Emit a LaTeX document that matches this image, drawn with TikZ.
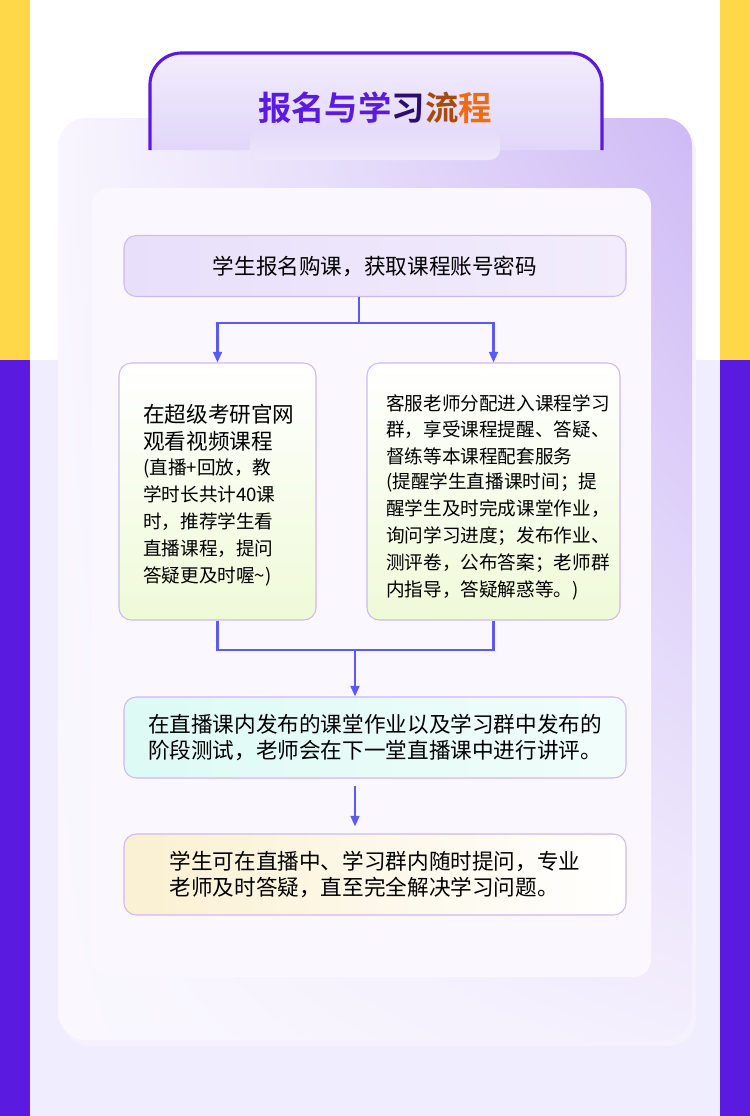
\documentclass[tikz,border=0pt]{standalone}
\usepackage{fontspec}
\usepackage{tikz}
\usetikzlibrary{arrows.meta,positioning,shadings}
\newfontfamily\cjk{Noto Sans CJK SC}
\newfontfamily\cjkbold{Noto Sans CJK SC Bold}
\definecolor{deeppurple}{HTML}{5B1ADF}
\definecolor{sideyellow}{HTML}{FFD84A}
\definecolor{lavbg}{HTML}{F0EDFF}
\definecolor{linkblue}{HTML}{5A5AF5}
\definecolor{boxline}{HTML}{CDB9F6}
\definecolor{titleorange}{HTML}{F06A10}
\definecolor{palegreen}{HTML}{EFFAD8}
\definecolor{palecyan}{HTML}{DDFAF4}
\definecolor{paleyellow}{HTML}{FAF0D2}
\newcommand\smalltext{\fontsize{10.6}{13.6}\selectfont}
\newcommand\midtext{\fontsize{10.6}{14.6}\selectfont}
\tikzset{
  stepbox/.style={draw=boxline, line width=0.6pt, rounded corners=7pt, inner sep=0pt},
  steptext/.style={font=\cjk\fontsize{12.3}{15.3}\selectfont, align=left, text=black},
  link/.style={draw=linkblue, line width=1.2pt},
  linkarrow/.style={link, -{Triangle[length=6pt,width=5pt]}}
}
\begin{document}
\begin{tikzpicture}[x=0.02cm, y=-0.02cm]
    \useasboundingbox (0,0) rectangle (750,1116);
    % background
    \fill[white] (0,0) rectangle (750,1116);
    \fill[sideyellow] (0,0) rectangle (30,360);
    \fill[sideyellow] (720,0) rectangle (750,360);
    \fill[deeppurple] (0,360) rectangle (30,1116);
    \fill[deeppurple] (720,360) rectangle (750,1116);
    \fill[lavbg] (30,360) rectangle (720,1116);
    % outer card
    \fill[deeppurple!6, rounded corners=16pt] (62,124) rectangle (696,1046);
    \shade[upper left=white!96!deeppurple, upper right=deeppurple!30, lower left=white!97!deeppurple, lower right=white!93!deeppurple, rounded corners=16pt] (58,118) rectangle (692,1040);
    % title tab
    \shade[top color=white!92!deeppurple, bottom color=deeppurple!18, rounded corners=18pt] (150,150) -- (150,53) -- (602,53) [sharp corners] -- (602,150) -- cycle;
    \draw[deeppurple, line width=1.8pt, rounded corners=18pt] (150,150) -- (150,53) -- (602,53) [sharp corners] -- (602,150);
    \shade[top color=deeppurple!16, bottom color=white!90!deeppurple, rounded corners=6pt] (250,130) rectangle (500,160);
    \node (title) at (375,108) {\cjkbold\fontsize{19}{19}\selectfont
      \textcolor{deeppurple}{报名与学}\textcolor{deeppurple!50!black}{习}\textcolor{titleorange!70!black}{流}\textcolor{titleorange}{程}};
    % inner card
    \fill[white!97!deeppurple, rounded corners=10pt] (92,188) rectangle (651,977);
    % steps
    \node[stepbox, left color=deeppurple!14, right color=deeppurple!8, minimum width=502*0.02cm, minimum height=61*0.02cm] (enroll) at (375,266) {};
    \node[steptext] (enrolltext) at (enroll) {学生报名购课，获取课程账号密码};
    \node[stepbox, top color=white, bottom color=palegreen, minimum width=197*0.02cm, minimum height=257*0.02cm] (watch) at (217.5,491.5) {};
    \node[steptext, anchor=north west] (watchtext) at (137,398) {在超级考研官网\\观看视频课程\\[-1pt]
      \smalltext (直播+回放，教\\\smalltext 学时长共计40课\\\smalltext 时，推荐学生看\\\smalltext 直播课程，提问\\\smalltext 答疑更及时喔\string~)};
    \node[stepbox, top color=white, bottom color=palegreen, minimum width=253*0.02cm, minimum height=257*0.02cm] (group) at (493.5,491.5) {};
    \node[steptext, anchor=north west] (grouptext) at (380,388) {\midtext 客服老师分配进入课程学习\\\midtext 群，享受课程提醒、答疑、\\\midtext 督练等本课程配套服务\\[-1pt]
      \smalltext (提醒学生直播课时间；提\\\smalltext 醒学生及时完成课堂作业，\\\smalltext 询问学习进度；发布作业、\\\smalltext 测评卷，公布答案；老师群\\\smalltext 内指导，答疑解惑等。)};
    \node[stepbox, left color=palecyan, right color=white!60!palecyan, minimum width=502*0.02cm, minimum height=81*0.02cm] (review) at (375,737.5) {};
    \node[steptext] (reviewtext) at (review) {在直播课内发布的课堂作业以及学习群中发布的\\阶段测试，老师会在下一堂直播课中进行讲评。};
    \node[stepbox, left color=paleyellow, right color=white, minimum width=502*0.02cm, minimum height=81*0.02cm] (answer) at (375,874.5) {};
    \node[steptext] (answertext) at (answer) {学生可在直播中、学习群内随时提问，专业\\老师及时答疑，直至完全解决学习问题。};
    % connectors
    \coordinate (split) at (359,323);
    \coordinate (join) at (355,650);
    \draw[link] (enroll.south -| split) -- (split);
    \draw[linkarrow] (split) -| (watch.north);
    \draw[linkarrow] (split) -| (group.north);
    \draw[link] (watch.south) |- (join);
    \draw[link] (group.south) |- (join);
    \draw[linkarrow] (join) -- (review.north -| join);
    \draw[linkarrow] ([yshift=-4pt]review.south -| join) -- ([yshift=4pt]answer.north -| join);
\end{tikzpicture}
\end{document}
